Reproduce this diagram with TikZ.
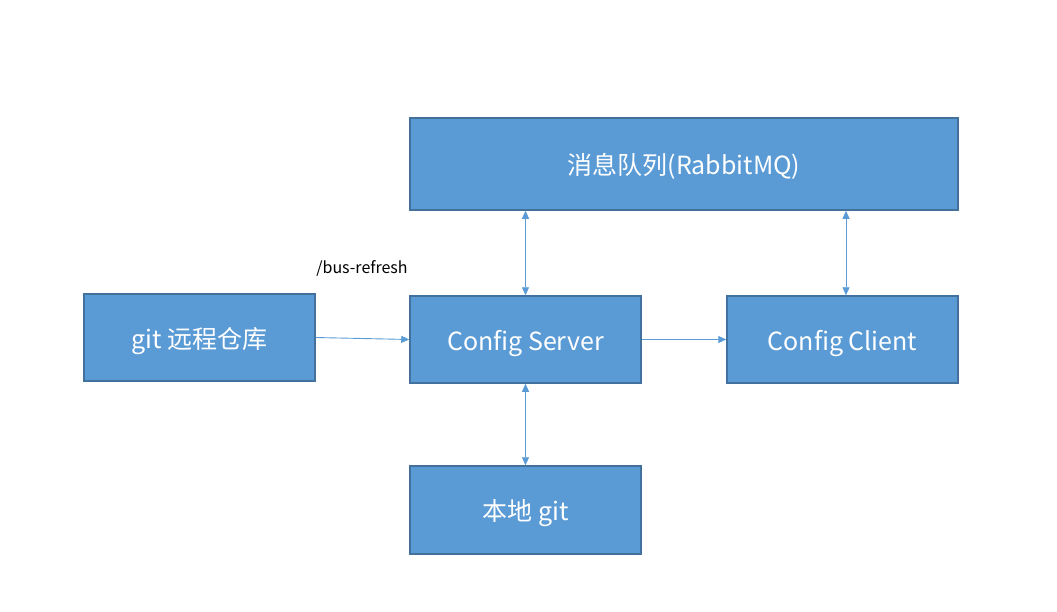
\documentclass[tikz,border=0pt]{standalone}
\usepackage{fontspec}
\setmainfont{Noto Sans CJK SC}
\usetikzlibrary{arrows.meta}
\definecolor{boxfill}{HTML}{5B9BD5}
\definecolor{boxline}{HTML}{41719C}

\begin{document}
\begin{tikzpicture}[x=1pt, y=-1pt,
		box/.style={draw=boxline, line width=1.5pt, fill=boxfill, text=white,
			minimum width=231pt, minimum height=87pt, inner sep=0pt,
			text height=24pt, text depth=3pt,
			font=\fontsize{25}{30}\selectfont},
		link/.style={draw=boxfill, line width=0.9pt, -{Triangle[length=8pt, width=7pt]}},
		both/.style={link, {Triangle[length=8pt, width=7pt]}-{Triangle[length=8pt, width=7pt]}}]
		\useasboundingbox (0, 0) rectangle (1057, 611);
		% boxes
		\node[box, minimum width=548pt, minimum height=92pt] (mq) at (684, 164) {消息队列(RabbitMQ)};
		\node[box] (remote) at (199.5, 337.5) {git 远程仓库};
		\node[box] (server) at (525.5, 339.5) {Config Server};
		\node[box] (client) at (842.5, 339.5) {Config Client};
		\node[box, minimum height=88pt] (local) at (525.5, 510) {本地 git};
		% label
		\node[font=\fontsize{16}{19}\selectfont] (refresh) at (362, 268) {/bus-refresh};
		% arrows
		\draw[link] (remote.east) -- (server.west);
		\draw[link] (server.east) -- (client.east -| client.west);
		\draw[both] (server.north) -- (server.north |- mq.south);
		\draw[both] ([xshift=3.5pt]client.north) -- ([xshift=3.5pt]client.north |- mq.south);
		\draw[both] (server.south) -- (local.north);
	\end{tikzpicture}
\end{document}
